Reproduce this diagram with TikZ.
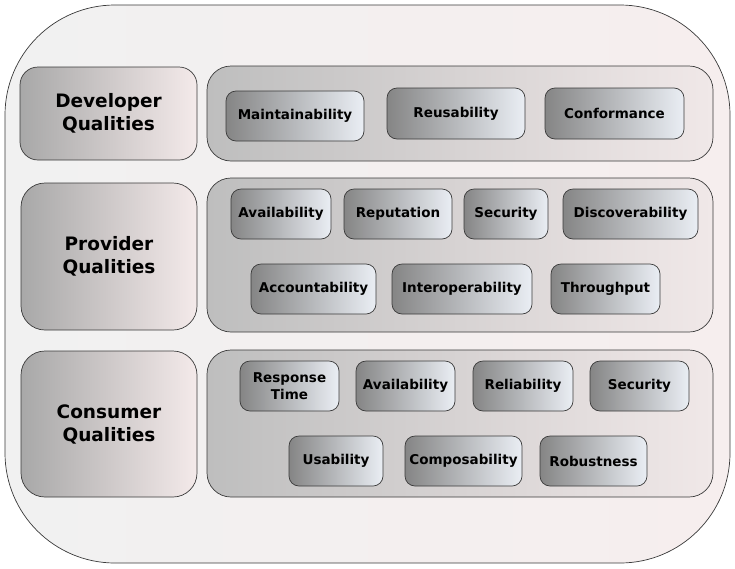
\documentclass[tikz,border=0pt]{standalone}
\usepackage{fontspec}
\setmainfont{DejaVu Sans}
\definecolor{outL}{HTML}{F1F1F1}
\definecolor{outR}{HTML}{F6EEEE}
\definecolor{labL}{HTML}{A8A8A8}
\definecolor{labR}{HTML}{F4EAEA}
\definecolor{panL}{HTML}{BEBEBE}
\definecolor{panR}{HTML}{F0E8E8}
\definecolor{boxL}{HTML}{858585}
\definecolor{boxR}{HTML}{EAEEF4}
\definecolor{edge}{HTML}{3A3A3A}
\tikzset{
  outerbox/.style={draw=edge, line width=0.7pt, rounded corners=110pt, left color=outL, right color=outR, inner sep=0pt},
  labelbox/.style={draw=edge, line width=0.7pt, rounded corners=24pt, left color=labL, right color=labR, inner sep=0pt, align=center, font=\bfseries\fontsize{18.5}{23}\selectfont},
  panelbox/.style={draw=edge, line width=0.7pt, rounded corners=24pt, left color=panL, right color=panR, inner sep=0pt},
  qbox/.style={draw=edge, line width=0.7pt, rounded corners=10pt, left color=boxL, right color=boxR, inner sep=0pt, minimum height=50pt, align=center, font=\bfseries\fontsize{13.5}{16.5}\selectfont}
}
\begin{document}
\begin{tikzpicture}[x=1pt,y=-1pt]
\useasboundingbox (0,0) rectangle (735,568);
\node[outerbox, minimum width=725pt, minimum height=558pt] (outer) at (367.5,284) {};
% left labels
\node[labelbox, rounded corners=18pt, minimum width=177pt, minimum height=93pt] (dev) at (108.5,113.5) {Developer\\Qualities};
\node[labelbox, minimum width=176pt, minimum height=147pt] (prov) at (109,256.5) {Provider\\Qualities};
\node[labelbox, minimum width=176pt, minimum height=146pt] (cons) at (109,424) {Consumer\\Qualities};
% panels
\node[panelbox, minimum width=506pt, minimum height=95pt] (devP) at (460,113.5) {};
\node[panelbox, minimum width=506pt, minimum height=154pt] (provP) at (460,255) {};
\node[panelbox, minimum width=506pt, minimum height=147pt] (consP) at (460,423.5) {};
% developer qualities
\node[qbox, minimum width=138pt] (maint) at (295,116) {Maintainability};
\node[qbox, minimum width=138pt, minimum height=51pt] (reuse) at (456,113.5) {Reusability};
\node[qbox, minimum width=139pt, minimum height=51pt] (conf) at (614.5,113.5) {Conformance};
% provider qualities
\node[qbox, minimum width=100pt] (pavail) at (281,214) {Availability};
\node[qbox, minimum width=108pt] (prep) at (398,214) {Reputation};
\node[qbox, minimum width=84pt] (psec) at (506,214) {Security};
\node[qbox, minimum width=135pt] (pdisc) at (630.5,214) {Discoverability};
\node[qbox, minimum width=125pt] (pacc) at (313.5,289) {Accountability};
\node[qbox, minimum width=140pt] (pinter) at (462,289) {Interoperability};
\node[qbox, minimum width=109pt] (pthr) at (605.5,289) {Throughput};
% consumer qualities
\node[qbox, minimum width=99pt] (cresp) at (289.5,386) {Response\\Time};
\node[qbox, minimum width=99pt] (cavail) at (405.5,386) {Availability};
\node[qbox, minimum width=100pt] (crel) at (523,386) {Reliability};
\node[qbox, minimum width=99pt] (csec) at (639.5,386) {Security};
\node[qbox, minimum width=94pt] (cusa) at (336,461) {Usability};
\node[qbox, minimum width=117pt] (ccomp) at (463.5,461) {Composability};
\node[qbox, minimum width=107pt] (crob) at (593.5,461) {Robustness};
\end{tikzpicture}
\end{document}
